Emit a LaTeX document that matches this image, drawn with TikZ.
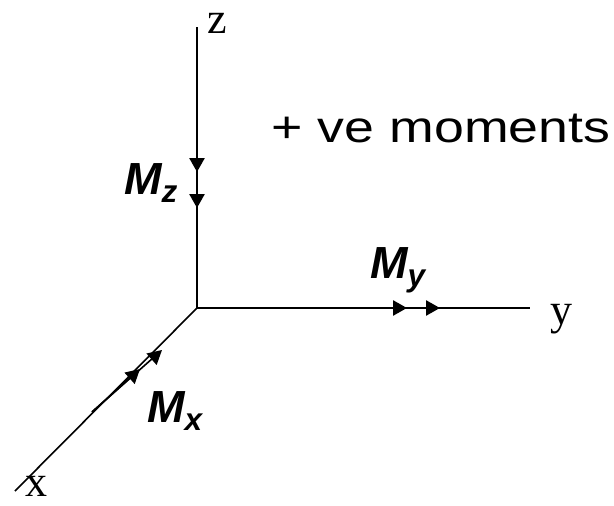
\documentclass[tikz,border=0pt]{standalone}
\usepackage{fontspec}
\setmainfont{Liberation Serif}
\setsansfont{Liberation Sans}
\usetikzlibrary{arrows.meta}
\newcommand{\momsym}[1]{M\textsubscript{#1}}

\begin{document}
\begin{tikzpicture}[x=1pt, y=-1pt,
  ax/.style={line width=2.6pt, draw=black},
  axx/.style={line width=1.6pt, draw=black},
  tip/.style={-{Triangle[length=14pt, width=15pt]}, line width=1.6pt},
  axl/.style={font=\fontsize{44}{44}\selectfont, inner sep=0pt,
    anchor=base},
  mom/.style={font=\fontsize{45}{45}\selectfont\sffamily\bfseries\itshape,
    inner sep=0pt, anchor=base west},
]
\useasboundingbox (0,0) rectangle (614,506);
% axes
\coordinate (O) at (197,308);
\coordinate (zend) at (197,27);
\coordinate (yend) at (530,308);
\coordinate (xend) at (15,491);
\draw[ax] (O) -- (zend);
\draw[ax] (O) -- (yend);
\draw[axx] (O) -- (xend);
\node[axl] (zl) at (217,33) {z};
\node[axl] (yl) at (561,324) {y};
\node[axl] (xl) at (36,496) {x};
% double arrow heads of the moments
\coordinate (tz1) at (197,172);
\coordinate (tz2) at (197,208);
\coordinate (ty1) at (407,308);
\coordinate (ty2) at (440,308);
\coordinate (xa) at (92,412);
\coordinate (tx1) at (140,369);
\coordinate (tx2) at (162,350);
\foreach \kk in {tz1, tz2} {
  \draw[tip, line width=2.6pt] (zend) -- (\kk);
}
\foreach \kk in {ty1, ty2} {
  \draw[tip, line width=2.6pt] (O) -- (\kk);
}
\foreach \kk in {tx1, tx2} {
  \draw[tip] (xa) -- (\kk);
}
% moment labels
\node[mom] (Mz) at (124,194) {\momsym{z}};
\node[mom] (My) at (370,278) {\momsym{y}};
\node[mom] (Mx) at (147,422) {\momsym{x}};
\node[anchor=base, inner sep=0pt, xscale=1.22,
  font=\fontsize{44}{44}\selectfont\sffamily] (title) at (441,142)
  {+ ve moments};
\end{tikzpicture}
\end{document}
